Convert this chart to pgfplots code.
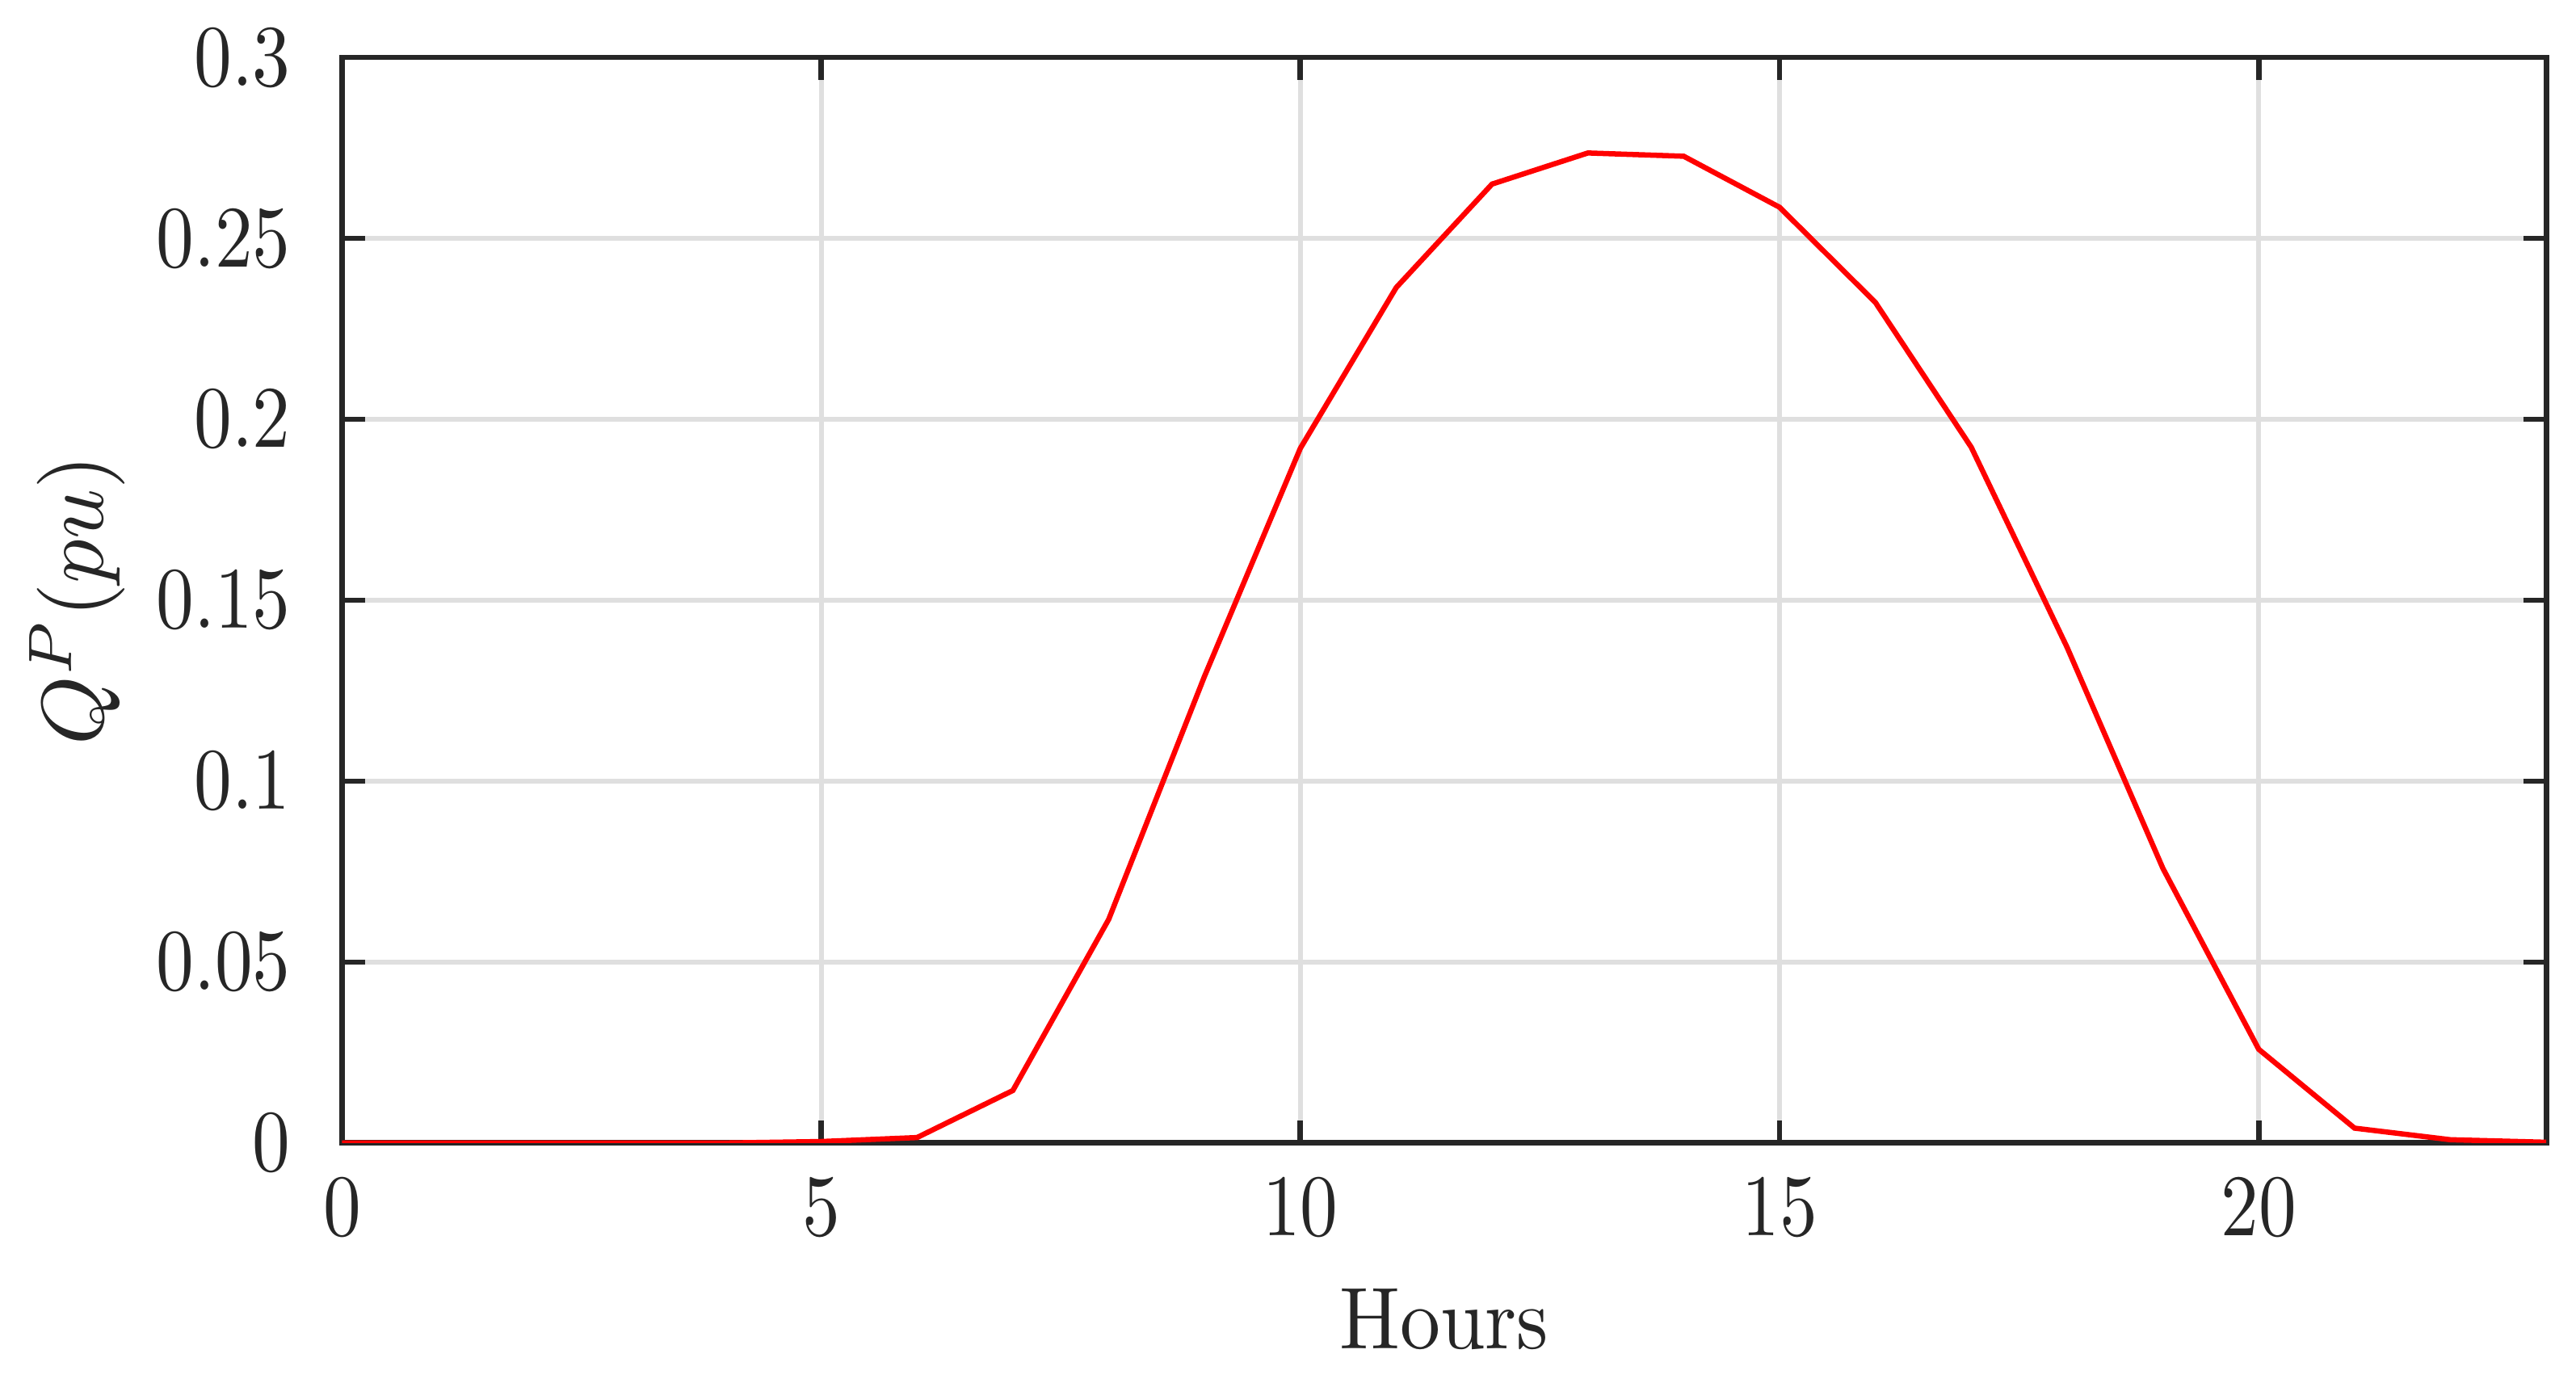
\documentclass[border=0pt]{standalone}
\usepackage{pgfplots}
\pgfplotsset{compat=1.18}
\definecolor{axgray}{RGB}{38,38,38}
\definecolor{gridgray}{RGB}{223,223,223}
\begin{document}
\begin{tikzpicture}
\begin{axis}[
    scale only axis,
    width=251.4pt,
    height=123.8pt,
    xmin=0, xmax=23,
    ymin=0, ymax=0.3,
    xtick={0,5,10,15,20},
    ytick={0,0.05,0.1,0.15,0.2,0.25,0.3},
    yticklabel style={/pgf/number format/fixed, /pgf/number format/precision=2, xshift=-3.3pt},
    xticklabel style={yshift=-0.6pt},
    scaled y ticks=false,
    tick align=inside,
    major tick length=2.6pt,
    grid=major,
    major grid style={gridgray, line width=0.55pt},
    axis line style={axgray, line width=0.62pt},
    every tick/.style={axgray, line width=0.62pt},
    tick label style={text=axgray, xscale=0.86},
    label style={text=axgray},
    xlabel style={xscale=0.92},
    xlabel shift=-0.8pt,
    ylabel shift=-2.8pt,
    xlabel={Hours},
    ylabel={$Q^P(pu)$},
]
\addplot[red, line width=0.6pt] coordinates {
    (0,0) (1,0) (2,0) (3,0) (4,0) (5,0.0004) (6,0.0015) (7,0.0145)
    (8,0.0618) (9,0.129) (10,0.192) (11,0.2364) (12,0.265) (13,0.2736)
    (14,0.2727) (15,0.2586) (16,0.2323) (17,0.1923) (18,0.137) (19,0.0759)
    (20,0.0259) (21,0.0041) (22,0.0009) (23,0.0002)
};
\end{axis}
\path (current axis.east) ++(3.4pt,0) coordinate (rm);
\end{tikzpicture}
\end{document}
